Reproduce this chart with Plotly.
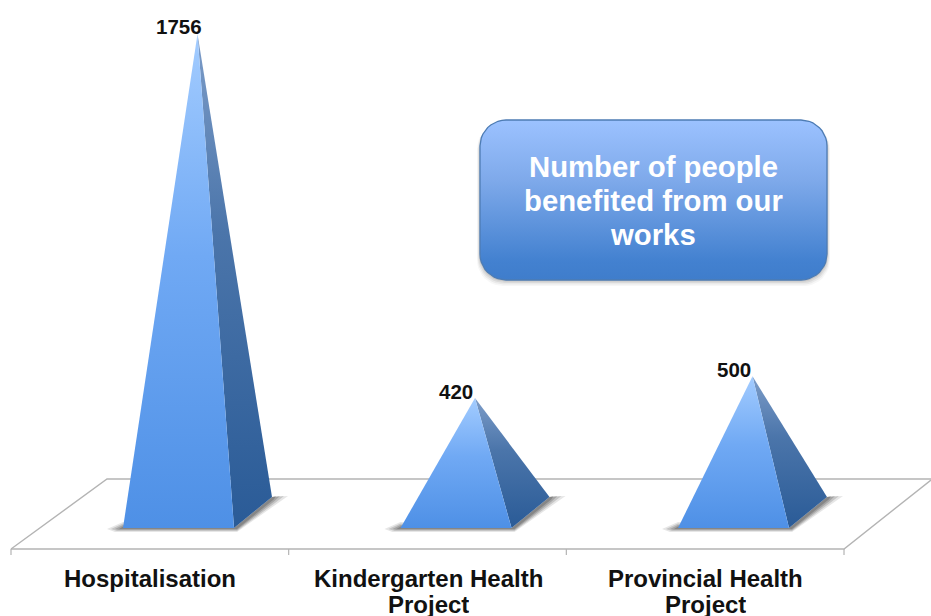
import math
import plotly.graph_objects as go

# ---- data ----
categories = ["Hospitalisation", "Kindergarten Health Project", "Provincial Health Project"]
label_lines = [["Hospitalisation"], ["Kindergarten Health", "Project"], ["Provincial Health", "Project"]]
people = [1756, 420, 500]
title_lines = ["Number of people", "benefited from our", "works"]

# ---- canvas / scale set-up ----
W, H = 931, 616
X0_PX, STEP_PX = 197.5, 277.5      # pixel of category 0 and category spacing
Y0_PX, PX_PER_UNIT = 512.5, 0.2725  # pixel of value 0 and scale

def xd(px):
    return (px - X0_PX) / STEP_PX

def yd(py):
    return (Y0_PX - py) / PX_PER_UNIT

# pyramid geometry, in pixel offsets from the base centre
HALF_W = 55.5
DEPTH_X = 19.0
DEPTH_Y = 15.5

FRONT_SCALE = [[0, "#4e90e6"], [0.55, "#70a9f4"], [1, "#a3ccff"]]
SIDE_SCALE = [[0, "#2a5b97"], [0.6, "#4b75aa"], [1, "#7c9cc8"]]
BOX_SCALE = [[0, "#3f7dcb"], [0.12, "#4381d0"], [0.62, "#7ea9ea"], [1, "#9cc2ff"]]

fig = go.Figure()

def poly(xs_px, ys_px, color, width=0, line="rgba(0,0,0,0)"):
    fig.add_trace(go.Scatter(
        x=[xd(v) for v in xs_px], y=[yd(v) for v in ys_px], mode="lines",
        fill="toself", fillcolor=color, line=dict(width=width, color=line),
        hoverinfo="skip", showlegend=False))

def grad_poly(xs, ys, scale):
    fig.add_trace(go.Scatter(
        x=xs, y=ys, mode="lines", fill="toself",
        fillgradient=dict(type="vertical", colorscale=scale),
        line=dict(width=0, color="rgba(0,0,0,0)"),
        hoverinfo="skip", showlegend=False))

# ---- floor ----
FLOOR_COLOR = "#b4b4b4"
floor_front_l = 11
floor_back_l = 107
floor_front_y = 549
floor_back_y = 479
tick_px = [floor_front_l + i * 277.67 for i in range(len(categories) + 1)]
floor_front_r = tick_px[-1]

fig.add_trace(go.Scatter(
    x=[xd(floor_front_l), xd(floor_back_l), xd(W), None, xd(floor_front_l), xd(floor_front_r), xd(W)],
    y=[yd(floor_front_y), yd(floor_back_y), yd(floor_back_y), None,
       yd(floor_front_y), yd(floor_front_y), yd(floor_back_y + 1)],
    mode="lines", line=dict(color=FLOOR_COLOR, width=1.4), hoverinfo="skip", showlegend=False))

tx, ty = [], []
for t in tick_px:
    tx += [xd(t), xd(t), None]
    ty += [yd(floor_front_y), yd(floor_front_y + 6), None]
fig.add_trace(go.Scatter(x=tx, y=ty, mode="lines", line=dict(color=FLOOR_COLOR, width=1.2),
                         hoverinfo="skip", showlegend=False))

# ---- pyramids ----
for i, v in enumerate(people):
    cx = X0_PX + i * STEP_PX
    fl = cx - HALF_W - DEPTH_X      # front-left pixel
    fr = cx + HALF_W - DEPTH_X      # front-right pixel
    br = cx + HALF_W + DEPTH_X      # back-right pixel
    fy = Y0_PX + DEPTH_Y
    by = Y0_PX - DEPTH_Y

    # soft floor shadow, several translucent layers
    for k, alpha in zip((1.0, 0.75, 0.5, 0.25), (0.12, 0.18, 0.22, 0.26)):
        grow = 16 * k
        poly([fl - grow, fl, fr, br, br + grow, br + 2, fr + 3, fl - grow * 0.5],
             [fy + 1, fy - 6 * k, fy, by, by - 1, by + 9 * k, fy + 4 * k, fy + 4 * k],
             f"rgba(50,50,50,{alpha})")

    # faces: the apex comes straight from the value
    grad_poly([i, xd(fr), xd(br), i], [v, yd(fy), yd(by), v], SIDE_SCALE)
    grad_poly([i, xd(fl), xd(fr), i], [v, yd(fy), yd(fy), v], FRONT_SCALE)

# ---- rounded call-out box ----
def rounded(x0, y0, x1, y1, r, n=10):
    xs, ys = [], []
    for cx, cy, a0 in ((x1 - r, y0 + r, -90), (x1 - r, y1 - r, 0), (x0 + r, y1 - r, 90), (x0 + r, y0 + r, 180)):
        for j in range(n + 1):
            a = math.radians(a0 + 90 * j / n)
            xs.append(cx + r * math.cos(a))
            ys.append(cy + r * math.sin(a))
    xs.append(xs[0]); ys.append(ys[0])
    return xs, ys

BOX = (480, 120, 827, 280, 26)
for grow, alpha in ((6, 0.04), (4.5, 0.06), (3, 0.08), (1.5, 0.10)):
    sx, sy = rounded(BOX[0] - grow * 0.5, BOX[1] + 3, BOX[2] + grow * 0.5, BOX[3] + grow, BOX[4])
    poly(sx, sy, f"rgba(40,40,40,{alpha})")
bx, by_ = rounded(*BOX)
grad_poly([xd(p) for p in bx], [yd(p) for p in by_], BOX_SCALE)
fig.add_trace(go.Scatter(x=[xd(p) for p in bx], y=[yd(p) for p in by_], mode="lines",
                         line=dict(color="#4d7cb4", width=1.3), hoverinfo="skip", showlegend=False))

# ---- text ----
FONT = "Liberation Sans"
annotations = []
def text(xp, yp, s, size, color, **extra):
    annotations.append(dict(x=xd(xp), y=yd(yp), xref="x", yref="y", text=f"<b>{s}</b>", showarrow=False,
                            xanchor="center", yanchor="middle",
                            font=dict(family=FONT, size=size, color=color), **extra))

# value labels sit up and left of each apex
for i, v in enumerate(people):
    annotations.append(dict(x=i, y=v, xref="x", yref="y", text=f"<b>{v}</b>", showarrow=False,
                            xshift=-19, yshift=7, xanchor="center", yanchor="middle",
                            font=dict(family=FONT, size=20.5, color="#111111")))

# category labels
label_centres = [150, 428, 705]
for c, lines in zip(label_centres, label_lines):
    for j, ln in enumerate(lines):
        if j == 0:
            text(c, 578, ln, 24, "#111111")
        else:
            # the last line sits on the page edge, so its box is kept inside the page
            text(c, 603.5, ln, 24, "#111111", height=24, borderpad=0)

for j, ln in enumerate(title_lines):
    text(653, 166.5 + j * 34, ln, 29.3, "#ffffff")

fig.update_layout(
    width=W, height=H, margin=dict(l=0, r=0, t=0, b=0),
    paper_bgcolor="#ffffff", plot_bgcolor="#ffffff", showlegend=False,
    xaxis=dict(range=[xd(0), xd(W)], visible=False, fixedrange=True),
    yaxis=dict(range=[yd(H), yd(0)], visible=False, fixedrange=True),
    annotations=annotations,
)
fig.write_html("out.html", config=dict(displayModeBar=False),
               post_script="document.body.style.margin='0';document.documentElement.style.overflow='hidden';")
